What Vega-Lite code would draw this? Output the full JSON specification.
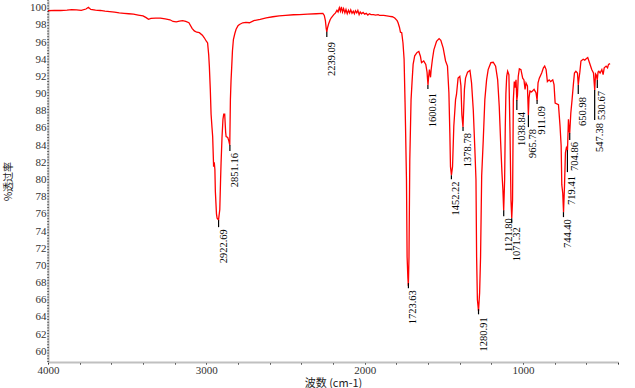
{
  "$schema": "https://vega.github.io/schema/vega-lite/v6.json",
  "width": 570,
  "height": 362,
  "autosize": "none",
  "padding": {"left": 48, "top": 0, "right": 17, "bottom": 26},
  "background": "white",
  "config": {"view": {"stroke": null}, "axis": {"labelOverlap": false, "labelFlush": false, "labelBound": false}},
  "datasets": {
    "spectrum": [
      {"wn":4000,"t":99.65},{"wn":3960,"t":99.7},{"wn":3920,"t":99.68},{"wn":3880,"t":99.72},{"wn":3850,"t":99.78},{"wn":3820,"t":99.75},{"wn":3790,"t":99.7},{"wn":3760,"t":99.85},{"wn":3745,"t":100.05},{"wn":3730,"t":99.8},{"wn":3700,"t":99.72},{"wn":3670,"t":99.68},{"wn":3640,"t":99.6},{"wn":3610,"t":99.55},{"wn":3580,"t":99.48},{"wn":3550,"t":99.4},{"wn":3520,"t":99.35},{"wn":3490,"t":99.3},{"wn":3460,"t":99.25},{"wn":3430,"t":99.15},{"wn":3400,"t":99.05},{"wn":3380,"t":98.85},{"wn":3365,"t":98.65},{"wn":3350,"t":98.75},{"wn":3320,"t":98.8},{"wn":3290,"t":98.78},{"wn":3260,"t":98.7},{"wn":3230,"t":98.6},{"wn":3210,"t":98.4},{"wn":3190,"t":98.35},{"wn":3170,"t":98.45},{"wn":3150,"t":98.5},{"wn":3130,"t":98.4},{"wn":3110,"t":98.25},{"wn":3090,"t":97.6},{"wn":3076,"t":97.3},{"wn":3060,"t":97.15},{"wn":3044,"t":97.1},{"wn":3025,"t":96.8},{"wn":3013,"t":96.5},{"wn":3000,"t":96.1},{"wn":2992,"t":95.9},{"wn":2985,"t":94.5},{"wn":2981,"t":93.2},{"wn":2975,"t":90.5},{"wn":2970,"t":87.6},{"wn":2964,"t":86.0},{"wn":2960,"t":85.0},{"wn":2954,"t":81.5},{"wn":2950,"t":82.0},{"wn":2946,"t":81.2},{"wn":2943,"t":78.6},{"wn":2936,"t":76.0},{"wn":2932,"t":75.5},{"wn":2923,"t":75.3},{"wn":2915,"t":76.5},{"wn":2910,"t":80.0},{"wn":2907,"t":81.9},{"wn":2901,"t":84.9},{"wn":2895,"t":87.0},{"wn":2890,"t":87.6},{"wn":2884,"t":87.6},{"wn":2878,"t":85.5},{"wn":2875,"t":85.0},{"wn":2865,"t":84.9},{"wn":2858,"t":84.5},{"wn":2852,"t":84.0},{"wn":2848,"t":89.3},{"wn":2844,"t":91.5},{"wn":2840,"t":93.0},{"wn":2835,"t":95.0},{"wn":2829,"t":96.3},{"wn":2820,"t":97.0},{"wn":2812,"t":97.5},{"wn":2800,"t":97.9},{"wn":2791,"t":98.05},{"wn":2770,"t":98.25},{"wn":2750,"t":98.3},{"wn":2728,"t":98.25},{"wn":2700,"t":98.5},{"wn":2660,"t":98.65},{"wn":2622,"t":98.83},{"wn":2580,"t":98.95},{"wn":2540,"t":99.05},{"wn":2500,"t":99.1},{"wn":2450,"t":99.18},{"wn":2411,"t":99.2},{"wn":2360,"t":99.25},{"wn":2306,"t":99.3},{"wn":2264,"t":99.34},{"wn":2255,"t":99.1},{"wn":2248,"t":98.5},{"wn":2243,"t":97.6},{"wn":2239,"t":97.2},{"wn":2234,"t":97.7},{"wn":2228,"t":98.1},{"wn":2218,"t":98.6},{"wn":2211,"t":98.83},{"wn":2195,"t":99.2},{"wn":2184,"t":99.4},{"wn":2175,"t":99.7},{"wn":2168,"t":99.5},{"wn":2160,"t":100.0},{"wn":2153,"t":99.6},{"wn":2147,"t":100.1},{"wn":2140,"t":99.5},{"wn":2133,"t":99.9},{"wn":2125,"t":99.4},{"wn":2118,"t":99.8},{"wn":2110,"t":99.3},{"wn":2102,"t":99.7},{"wn":2095,"t":99.4},{"wn":2088,"t":99.75},{"wn":2080,"t":99.35},{"wn":2072,"t":99.6},{"wn":2065,"t":99.3},{"wn":2058,"t":99.65},{"wn":2050,"t":99.4},{"wn":2043,"t":99.7},{"wn":2035,"t":99.2},{"wn":2028,"t":99.5},{"wn":2020,"t":99.3},{"wn":2010,"t":99.45},{"wn":2000,"t":99.25},{"wn":1990,"t":99.35},{"wn":1980,"t":99.15},{"wn":1970,"t":99.3},{"wn":1960,"t":99.2},{"wn":1945,"t":99.2},{"wn":1930,"t":99.15},{"wn":1915,"t":99.2},{"wn":1905,"t":99.1},{"wn":1880,"t":99.1},{"wn":1860,"t":99.05},{"wn":1842,"t":99.0},{"wn":1825,"t":98.95},{"wn":1810,"t":98.8},{"wn":1795,"t":98.5},{"wn":1789,"t":98.25},{"wn":1780,"t":97.7},{"wn":1774,"t":97.15},{"wn":1766,"t":97.1},{"wn":1758,"t":95.9},{"wn":1751,"t":94.0},{"wn":1745,"t":89.0},{"wn":1742,"t":86.2},{"wn":1736,"t":80.0},{"wn":1732,"t":71.0},{"wn":1727,"t":68.5},{"wn":1724,"t":67.6},{"wn":1720,"t":71.0},{"wn":1715,"t":82.3},{"wn":1707,"t":89.3},{"wn":1700,"t":91.6},{"wn":1694,"t":93.4},{"wn":1684,"t":94.4},{"wn":1669,"t":94.8},{"wn":1658,"t":94.9},{"wn":1648,"t":94.35},{"wn":1641,"t":93.6},{"wn":1627,"t":93.8},{"wn":1614,"t":93.4},{"wn":1606,"t":92.5},{"wn":1603,"t":91.7},{"wn":1600,"t":91.0},{"wn":1596,"t":92.0},{"wn":1591,"t":92.8},{"wn":1587,"t":92.2},{"wn":1584,"t":91.9},{"wn":1580,"t":92.8},{"wn":1572,"t":94.0},{"wn":1563,"t":95.1},{"wn":1546,"t":96.1},{"wn":1530,"t":96.4},{"wn":1519,"t":96.2},{"wn":1504,"t":95.3},{"wn":1489,"t":93.8},{"wn":1477,"t":93.2},{"wn":1468,"t":90.1},{"wn":1462,"t":85.4},{"wn":1458,"t":81.5},{"wn":1452,"t":80.5},{"wn":1445,"t":81.5},{"wn":1437,"t":86.2},{"wn":1426,"t":89.3},{"wn":1420,"t":89.9},{"wn":1410,"t":91.8},{"wn":1399,"t":92.0},{"wn":1392,"t":90.9},{"wn":1386,"t":87.5},{"wn":1379,"t":86.1},{"wn":1374,"t":88.5},{"wn":1370,"t":90.5},{"wn":1363,"t":91.8},{"wn":1350,"t":92.5},{"wn":1335,"t":92.7},{"wn":1325,"t":91.25},{"wn":1314,"t":88.1},{"wn":1304,"t":83.5},{"wn":1297,"t":80.0},{"wn":1293,"t":71.0},{"wn":1288,"t":66.0},{"wn":1281,"t":64.7},{"wn":1274,"t":66.8},{"wn":1268,"t":71.0},{"wn":1261,"t":80.4},{"wn":1251,"t":84.6},{"wn":1241,"t":89.3},{"wn":1230,"t":91.6},{"wn":1220,"t":92.8},{"wn":1203,"t":93.6},{"wn":1188,"t":93.65},{"wn":1173,"t":93.2},{"wn":1160,"t":91.6},{"wn":1150,"t":88.5},{"wn":1141,"t":84.25},{"wn":1133,"t":80.8},{"wn":1127,"t":78.8},{"wn":1122,"t":76.4},{"wn":1116,"t":80.0},{"wn":1112,"t":86.0},{"wn":1108,"t":90.0},{"wn":1103,"t":92.0},{"wn":1097,"t":92.6},{"wn":1089,"t":92.2},{"wn":1082,"t":85.4},{"wn":1076,"t":77.6},{"wn":1071,"t":75.5},{"wn":1066,"t":77.6},{"wn":1061,"t":89.3},{"wn":1055,"t":91.4},{"wn":1051,"t":90.7},{"wn":1044,"t":91.6},{"wn":1039,"t":89.2},{"wn":1035,"t":89.8},{"wn":1030,"t":92.0},{"wn":1023,"t":92.9},{"wn":1013,"t":92.8},{"wn":1002,"t":91.8},{"wn":994,"t":91.6},{"wn":987,"t":90.5},{"wn":981,"t":91.25},{"wn":972,"t":90.9},{"wn":966,"t":87.5},{"wn":962,"t":89.5},{"wn":956,"t":90.3},{"wn":946,"t":90.2},{"wn":930,"t":90.5},{"wn":918,"t":90.1},{"wn":911,"t":89.2},{"wn":905,"t":91.25},{"wn":897,"t":91.8},{"wn":882,"t":92.4},{"wn":871,"t":93.0},{"wn":863,"t":93.2},{"wn":854,"t":92.8},{"wn":846,"t":91.4},{"wn":835,"t":91.6},{"wn":825,"t":91.4},{"wn":812,"t":91.6},{"wn":804,"t":91.05},{"wn":797,"t":88.9},{"wn":776,"t":88.7},{"wn":766,"t":86.2},{"wn":759,"t":83.9},{"wn":755,"t":79.4},{"wn":749,"t":78.4},{"wn":744,"t":76.2},{"wn":738,"t":79.2},{"wn":732,"t":83.1},{"wn":726,"t":83.7},{"wn":719,"t":83.4},{"wn":713,"t":87.0},{"wn":709,"t":85.8},{"wn":705,"t":85.4},{"wn":698,"t":87.75},{"wn":690,"t":89.3},{"wn":681,"t":91.25},{"wn":675,"t":92.4},{"wn":666,"t":92.6},{"wn":656,"t":92.4},{"wn":651,"t":91.0},{"wn":646,"t":91.8},{"wn":641,"t":92.5},{"wn":634,"t":93.8},{"wn":620,"t":94.0},{"wn":610,"t":93.9},{"wn":601,"t":94.05},{"wn":591,"t":94.2},{"wn":580,"t":93.6},{"wn":566,"t":92.8},{"wn":555,"t":92.4},{"wn":547,"t":90.4},{"wn":542,"t":92.3},{"wn":538,"t":92.2},{"wn":531,"t":91.6},{"wn":526,"t":92.5},{"wn":521,"t":92.6},{"wn":513,"t":92.4},{"wn":502,"t":92.8},{"wn":494,"t":92.2},{"wn":487,"t":93.0},{"wn":475,"t":93.2},{"wn":466,"t":93.0},{"wn":460,"t":93.4},{"wn":450,"t":93.5}
    ],
    "peaks": [
      {"wn":2922.69,"label":"2922.69","top":75.27,"end":74.45,"ly":74.22},
      {"wn":2851.16,"label":"2851.16","top":84.01,"end":83.31,"ly":83.08},
      {"wn":2239.09,"label":"2239.09","top":97.21,"end":96.6,"ly":96.01},
      {"wn":1723.63,"label":"1723.63","top":67.93,"end":67.34,"ly":67.11},
      {"wn":1600.61,"label":"1600.61","top":91.0,"end":90.54,"ly":90.07},
      {"wn":1452.22,"label":"1452.22","top":80.49,"end":80.02,"ly":79.78},
      {"wn":1378.78,"label":"1378.78","top":86.11,"end":85.64,"ly":85.41},
      {"wn":1280.91,"label":"1280.91","top":64.9,"end":64.3,"ly":63.96},
      {"wn":1121.80,"label":"1121.80","top":76.43,"end":75.73,"ly":75.5},
      {"wn":1071.32,"label":"1071.32","top":75.5,"end":74.92,"ly":74.45},
      {"wn":1038.84,"label":"1038.84","top":89.25,"end":88.09,"ly":87.86},
      {"wn":965.78,"label":"965.78","top":87.5,"end":86.1,"ly":85.87},
      {"wn":911.09,"label":"911.09","top":89.25,"end":88.79,"ly":88.55},
      {"wn":744.40,"label":"744.40","top":76.2,"end":75.62,"ly":75.38},
      {"wn":719.41,"label":"719.41","top":83.43,"end":80.86,"ly":80.4},
      {"wn":704.86,"label":"704.86","top":85.41,"end":84.59,"ly":84.36},
      {"wn":650.98,"label":"650.98","top":91.0,"end":89.95,"ly":89.6},
      {"wn":547.38,"label":"547.38","top":90.42,"end":86.92,"ly":86.57},
      {"wn":530.67,"label":"530.67","top":91.58,"end":90.65,"ly":90.3}
    ],
    "frame": [{"wn":4000,"lo":58.75,"hi":100.9}]
  },
  "layer": [
    {
      "data": {"name": "spectrum"},
      "mark": {"type": "line", "color": "#ff0000", "strokeWidth": 1.3, "interpolate": "linear"},
      "encoding": {
        "x": {
          "field": "wn", "type": "quantitative",
          "scale": {"domain": [4000, 400], "nice": false, "zero": false},
          "axis": {
            "values": [4000,3800,3600,3400,3200,3000,2800,2600,2400,2200,2000,1800,1600,1400,1200,1000,800,600,400],
            "tickCount": 100,
            "labelExpr": "datum.value % 1000 === 0 ? datum.value : ''",
            "labelOverlap": false,
            "title": "波数 (cm-1)",
            "titleFont": "Noto Sans CJK SC", "titleFontSize": 11, "titleFontWeight": "normal", "titleColor": "#222",
            "titleY": 15, "titleBaseline": "top",
            "labelFont": "Liberation Serif", "labelFontSize": 11, "labelColor": "#333",
            "labelPadding": 0, "labelDx": -2,
            "domainColor": "#c0c0c0", "domainWidth": 2,
            "tickColor": "#000", "tickSize": 2, "tickWidth": 1,
            "grid": false
          }
        },
        "y": {
          "field": "t", "type": "quantitative",
          "scale": {"domain": [58.75, 100.9], "nice": false, "zero": false},
          "axis": {
            "values": [60,62,64,66,68,70,72,74,76,78,80,82,84,86,88,90,92,94,96,98,100],
            "tickCount": 100,
            "format": "d",
            "labelOverlap": false,
            "title": "%透过率",
            "titleFont": "Noto Sans CJK SC", "titleFontSize": 10, "titleFontWeight": "normal", "titleColor": "#222",
            "titleX": -40, "titleY": 181, "titleAngle": 270, "titleAlign": "center", "titleBaseline": "middle",
            "labelFont": "Liberation Serif", "labelFontSize": 11, "labelColor": "#333",
            "labelPadding": 2,
            "domainColor": "#c0c0c0", "domainWidth": 2,
            "ticks": false,
            "grid": false
          }
        }
      }
    },
    {
      "data": {"name": "frame"},
      "mark": {"type": "rule", "color": "#000", "strokeWidth": 1, "strokeDash": [1, 1.8]},
      "encoding": {
        "x": {"field": "wn", "type": "quantitative"},
        "y": {"field": "lo", "type": "quantitative"},
        "y2": {"field": "hi"}
      }
    },
    {
      "data": {"name": "peaks"},
      "mark": {"type": "rule", "color": "#000", "strokeWidth": 1.2},
      "encoding": {
        "x": {"field": "wn", "type": "quantitative"},
        "y": {"field": "top", "type": "quantitative"},
        "y2": {"field": "end"}
      }
    },
    {
      "data": {"name": "peaks"},
      "mark": {"type": "text", "angle": 270, "align": "right", "baseline": "top", "font": "Liberation Serif", "fontSize": 10.5, "color": "#000"},
      "encoding": {
        "x": {"field": "wn", "type": "quantitative"},
        "y": {"field": "ly", "type": "quantitative"},
        "text": {"field": "label"}
      }
    }
  ]
}
